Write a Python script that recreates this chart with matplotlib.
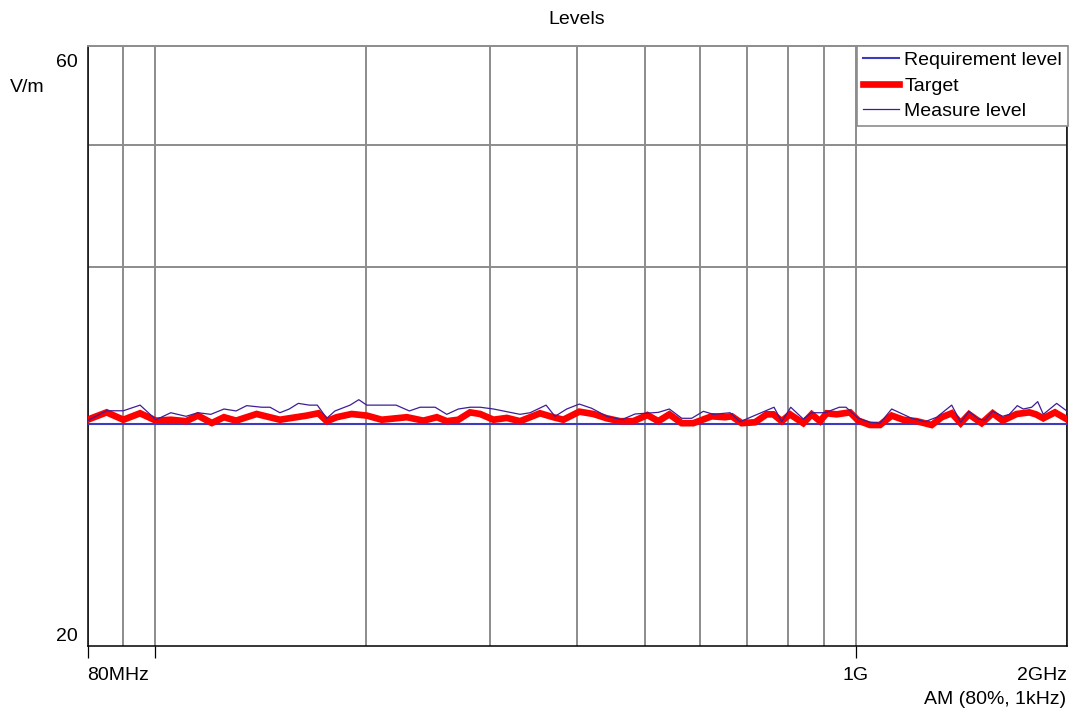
import matplotlib
matplotlib.use("Agg")
import matplotlib.pyplot as plt
import numpy as np

plt.rcParams['font.family'] = ['Liberation Sans', 'DejaVu Sans']

# ---------------- data ----------------
requirement_freq_mhz = [80, 2000]
requirement_level = [30.0, 30.0]

measure_freq_mhz = [80.0, 85.2, 90.0, 95.1, 100.2, 105.2, 110.6, 115.0, 120.0, 125.3,
                    130.4, 135.0, 141.9, 145.8, 150.6, 155.3, 160.0, 165.9, 170.3, 175.7,
                    180.5, 189.7, 195.2, 200.4, 220.7, 230.5, 238.8, 250.9, 260.7, 270.8,
                    281.4, 290.9, 303.9, 331.7, 342.8, 361.3, 372.1, 386.7, 403.1, 419.8,
                    441.1, 463.4, 484.1, 522.6, 541.9, 564.4, 583.3, 606.0, 626.2, 661.6,
                    683.7, 764.5, 784.1, 807.7, 841.8, 865.4, 904.0, 947.5, 968.7, 1008.7,
                    1048.2, 1083.2, 1125.7, 1202.2, 1256.0, 1305.2, 1371.2, 1412.4, 1451.4, 1496.5,
                    1529.9, 1569.1, 1621.5, 1657.1, 1701.2, 1735.1, 1783.7, 1819.3, 1853.1, 1936.5,
                    2000.0]
measure_level = [30.21, 30.76, 30.76, 31.08, 30.26, 30.65, 30.45, 30.65, 30.56, 30.86,
                 30.75, 31.05, 30.96, 30.96, 30.65, 30.86, 31.18, 31.08, 31.08, 30.34,
                 30.75, 31.08, 31.39, 31.08, 31.08, 30.75, 30.96, 30.96, 30.56, 30.86,
                 30.96, 30.96, 30.86, 30.56, 30.65, 31.08, 30.45, 30.86, 31.14, 30.90,
                 30.45, 30.26, 30.58, 30.67, 30.86, 30.34, 30.34, 30.73, 30.56, 30.65,
                 30.15, 30.96, 30.15, 30.96, 30.30, 30.65, 30.65, 30.96, 30.96, 30.34,
                 30.12, 30.07, 30.86, 30.34, 30.15, 30.40, 31.08, 30.12, 30.73, 30.30,
                 30.25, 30.73, 30.45, 30.56, 31.05, 30.86, 30.96, 31.28, 30.56, 31.18,
                 30.76]

target_freq_mhz = [80.0, 85.2, 90.0, 95.1, 100.2, 105.2, 110.6, 115.0, 120.4, 125.3,
                   130.4, 139.5, 150.6, 164.5, 170.9, 175.7, 181.5, 190.7, 200.4, 210.5,
                   228.6, 241.4, 252.3, 260.7, 270.8, 281.4, 290.9, 303.9, 317.6, 331.7,
                   354.2, 370.0, 382.4, 403.1, 422.1, 441.1, 460.8, 481.4, 504.1, 522.6,
                   541.9, 564.4, 586.4, 622.9, 650.8, 665.3, 687.5, 718.3, 746.3, 762.7,
                   784.1, 805.8, 841.8, 865.4, 889.3, 909.1, 939.5, 981.5, 1008.7, 1048.2,
                   1083.2, 1125.7, 1169.4, 1222.1, 1284.0, 1326.9, 1371.2, 1412.4, 1451.4, 1513.3,
                   1569.1, 1621.5, 1697.9, 1769.7, 1809.1, 1853.1, 1925.7, 2000.0]
target_level = [30.26, 30.67, 30.26, 30.62, 30.21, 30.26, 30.18, 30.49, 30.08, 30.40,
                30.21, 30.58, 30.26, 30.49, 30.62, 30.18, 30.40, 30.58, 30.49, 30.26,
                30.40, 30.21, 30.40, 30.18, 30.26, 30.67, 30.58, 30.26, 30.36, 30.18,
                30.62, 30.40, 30.26, 30.71, 30.58, 30.34, 30.18, 30.18, 30.52, 30.18,
                30.56, 30.07, 30.07, 30.45, 30.40, 30.45, 30.07, 30.12, 30.56, 30.56,
                30.18, 30.56, 30.07, 30.56, 30.18, 30.62, 30.56, 30.67, 30.21, 29.97,
                29.97, 30.49, 30.26, 30.18, 29.97, 30.40, 30.62, 30.07, 30.56, 30.07,
                30.62, 30.21, 30.58, 30.67, 30.56, 30.34, 30.67, 30.30]

x_major_ticks = [80, 100, 1000, 2000]
x_major_labels = ['80MHz', '', '1G', '2GHz']
x_grid_minor = [90, 200, 300, 400, 500, 600, 700, 800, 900]
y_labels = [60, 20]
y_grid = [30, 40, 50]

# ---------------- figure ----------------
W, H = 1075, 713
fig = plt.figure(figsize=(W / 100, H / 100), dpi=100)
ax = fig.add_axes([87.5 / W, 1 - 646 / H, (1066.5 - 87.5) / W, (646 - 45.7) / H])

ax.set_xscale('log')
ax.set_yscale('log')
ax.set_xlim(80, 2000)
ax.set_ylim(20, 60)

grid_col = '#8c8c8c'
ax.plot(requirement_freq_mhz, requirement_level, color='#3c3cc0', lw=1.5,
        label='Requirement level', zorder=3)
ax.plot(target_freq_mhz, target_level, color='#ff0000', lw=4.8,
        label='Target', zorder=4, solid_joinstyle='miter')
ax.plot(measure_freq_mhz, measure_level, color='#3d1e96', lw=0.9,
        label='Measure level', zorder=5)

# x ticks and grid
ax.set_xticks(x_major_ticks)
ax.set_xticklabels(x_major_labels)
ax.set_xticks(x_grid_minor, minor=True)
ax.set_xticklabels([], minor=True)
ax.tick_params(axis='x', which='major', direction='out', length=8.5, width=0.9,
               color='black', labelsize=14, pad=6.5)
ax.tick_params(axis='x', which='minor', length=0)
ax.xaxis.get_major_ticks()[3].tick1line.set_visible(False)
labs = ax.get_xticklabels()
labs[0].set_horizontalalignment('left')
labs[3].set_horizontalalignment('right')

# y ticks and grid
ax.set_yticks([])
ax.set_yticks([], minor=True)
ax.set_yticks(y_grid, minor=True)
ax.set_yticklabels([], minor=True)
ax.tick_params(axis='y', which='both', length=0)

ax.grid(True, which='both', axis='both', color=grid_col, lw=1.4, zorder=1)
ax.set_axisbelow(True)

# y labels at ends
offsets = {60: -12, 20: 7}
for v in y_labels:
    ax.annotate(str(v), xy=(0, v), xycoords=('axes fraction', 'data'),
                xytext=(-7, offsets[v]), textcoords='offset points',
                ha='right', va='center', fontsize=14)

# spines
for s in ['left', 'bottom', 'right']:
    ax.spines[s].set_color('black')
    ax.spines[s].set_linewidth(1.1)
ax.spines['top'].set_color(grid_col)
ax.spines['top'].set_linewidth(1.4)

leg = ax.legend(loc='upper right', bbox_to_anchor=(1.0015, 1.0), borderaxespad=0,
                fontsize=14, frameon=True, fancybox=False, framealpha=1,
                edgecolor=grid_col, handlelength=1.85, handletextpad=0.3,
                labelspacing=0.4, borderpad=0.3)
leg.get_frame().set_linewidth(1.2)
leg.set_zorder(10)

fig.text(577 / W, 1 - 19 / H, 'Levels', ha='center', va='center', fontsize=14)
fig.text(27 / W, 1 - 87 / H, 'V/m', ha='center', va='center', fontsize=14)
fig.text(1066 / W, 1 - 700 / H, 'AM (80%, 1kHz)', ha='right', va='center', fontsize=14)

fig.savefig('out.png', dpi=100)
